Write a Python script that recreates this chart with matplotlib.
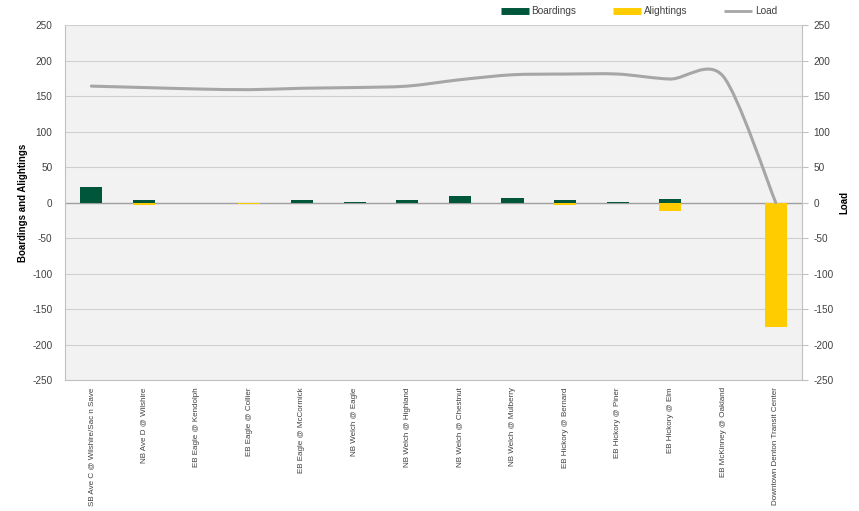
import matplotlib.pyplot as plt
import numpy as np
from matplotlib.lines import Line2D
from matplotlib.path import Path
from matplotlib.patches import PathPatch

plt.rcParams['font.family'] = ['Liberation Sans', 'DejaVu Sans']
plt.rcParams['axes.unicode_minus'] = False

stops = [
    'SB Ave C @ Wilshire/Sac n Save', 'NB Ave D @ Wilshire', 'EB Eagle @ Kendolph',
    'EB Eagle @ Collier', 'EB Eagle @ McCormick', 'NB Welch @ Eagle',
    'NB Welch @ Highland', 'NB Welch @ Chestnut', 'NB Welch @ Mulberry',
    'EB Hickory @ Bernard', 'EB Hickory @ Piner', 'EB Hickory @ Elm',
    'EB McKinney @ Oakland', 'Downtown Denton Transit Center',
]
boardings = [22, 3, 0, 0, 4, 1, 3, 9, 7, 3, 1, 5, 0, 0]
alightings = [0, -4, -1, -2, -1, 0, -1, 0, 0, -3, -1, -12, 0, -175]
load = [164, 162, 160, 159, 161, 162, 164, 173, 180, 181, 181, 174, 178, 0]

GREEN = '#00563a'
YELLOW = '#ffcc00'
GREY_LINE = '#a6a6a6'
TXT = '#404040'

fig = plt.figure(figsize=(8.59, 5.11), dpi=100)
ax = fig.add_axes([0.0757, 0.256, 0.858, 0.695])
ax.set_facecolor('#f2f2f2')

x = np.arange(len(stops))
ax.bar(x, boardings, width=0.42, color=GREEN, zorder=3)
ax.bar(x, alightings, width=0.42, color=YELLOW, zorder=3)

ax.set_xlim(-0.5, len(stops) - 0.5)
ax.set_ylim(-250, 250)
ax.set_yticks(np.arange(-250, 251, 50))
ax.grid(axis='y', color='#cfcfcf', lw=0.8, zorder=0)
ax.axhline(0, color='#a0a0a0', lw=1, zorder=2)
ax.set_xticks(x)
ax.set_xticklabels(stops, rotation=90, fontsize=5.8, color=TXT)
ax.tick_params(axis='x', length=0, pad=5)
ax.tick_params(axis='y', labelsize=7.2, colors=TXT, length=0, pad=9)
ax.set_ylabel('Boardings and Alightings', fontsize=7, fontweight='bold', labelpad=3)
for s in ax.spines.values():
    s.set_color('#c0c0c0')
ax.spines['top'].set_visible(False)

# load on the secondary axis, drawn as a smoothed curve (Catmull-Rom as cubic Beziers)
ax2 = ax.twinx()
ax2.set_ylim(-250, 250)
ax2.set_yticks(np.arange(-250, 251, 50))
ax2.tick_params(axis='y', labelsize=7.2, colors=TXT, length=4, color='#c0c0c0', pad=4)
ax2.set_ylabel('Load', fontsize=7, fontweight='bold', labelpad=4)
for s in ax2.spines.values():
    s.set_visible(False)

pts = np.column_stack([x, load]).astype(float)
verts = [pts[0]]
codes = [Path.MOVETO]
for i in range(len(pts) - 1):
    p0 = pts[i - 1] if i > 0 else pts[i]
    p1, p2 = pts[i], pts[i + 1]
    p3 = pts[i + 2] if i + 2 < len(pts) else pts[i + 1]
    verts += [p1 + (p2 - p0) / 7, p2 - (p3 - p1) / 7, p2]
    codes += [Path.CURVE4] * 3
ax2.add_patch(PathPatch(Path(verts, codes), fill=False, edgecolor=GREY_LINE,
                        lw=2.2, capstyle='round', zorder=4))

handles = [Line2D([], [], color=GREEN, lw=5, solid_capstyle='butt'),
           Line2D([], [], color=YELLOW, lw=5, solid_capstyle='butt'),
           Line2D([], [], color=GREY_LINE, lw=2, solid_capstyle='butt')]
fig.legend(handles, ['Boardings', 'Alightings', 'Load'], loc='upper right',
           bbox_to_anchor=(0.915, 1.005), ncol=3, frameon=False, fontsize=7.2,
           handlelength=2.8, handletextpad=0.25, columnspacing=3.7, labelcolor=TXT)

fig.savefig('out.png', dpi=100, facecolor='white')
